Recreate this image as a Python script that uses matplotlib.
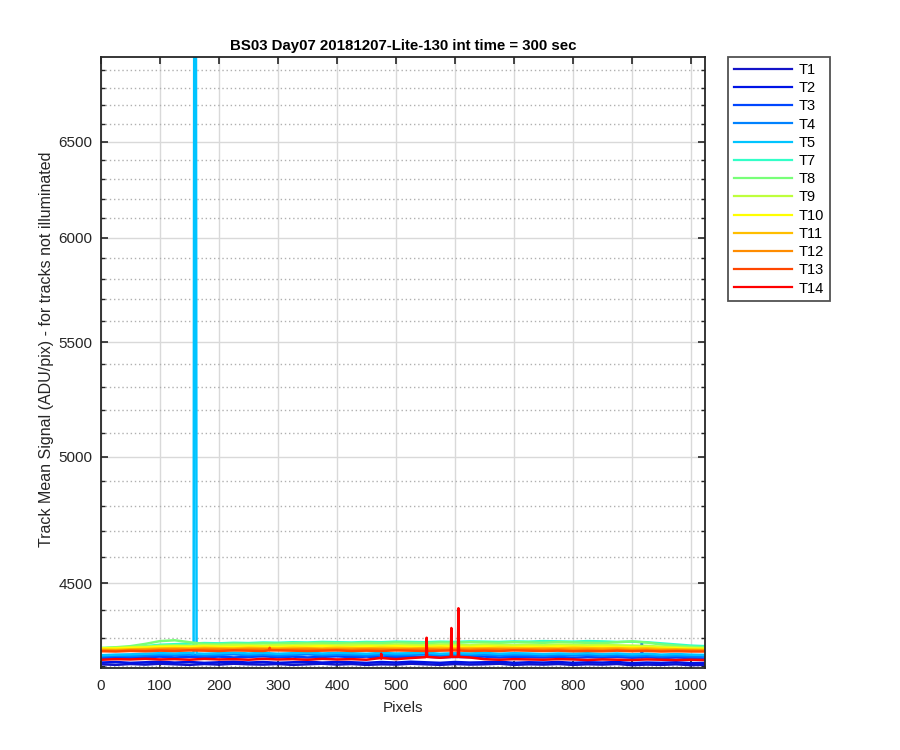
import matplotlib
matplotlib.use("Agg")
import matplotlib.pyplot as plt
from matplotlib.ticker import FixedLocator, NullFormatter, FixedFormatter

plt.rcParams['font.family'] = ['Liberation Sans', 'DejaVu Sans']

title = "BS03 Day07 20181207-Lite-130 int time = 300 sec"
xlabel = "Pixels"
ylabel = "Track Mean Signal (ADU/pix) - for tracks not illuminated"

track_names = ["T1", "T2", "T3", "T4", "T5", "T7", "T8", "T9", "T10", "T11", "T12", "T13", "T14"]
track_colors = ["#1414c8", "#0014e6", "#0046ff", "#0082ff", "#00c4ff", "#32ffc8", "#78ff78",
                "#beff3c", "#ffff00", "#ffbe00", "#ff8c00", "#ff4600", "#ff0000"]

x_grid = [1, 25, 50, 75, 100, 125, 150, 175, 200, 225, 250, 275, 300, 325, 350, 375, 400,
          425, 450, 475, 500, 525, 550, 575, 600, 625, 650, 675, 700, 725, 750, 775, 800,
          825, 850, 875, 900, 925, 950, 975, 1000, 1024]

T1 = [4206, 4204, 4207, 4205, 4208, 4206, 4204, 4207, 4205, 4208, 4206, 4205, 4207, 4204,
      4206, 4208, 4205, 4207, 4204, 4206, 4205, 4208, 4206, 4204, 4207, 4205, 4206, 4208,
      4204, 4206, 4205, 4207, 4204, 4206, 4205, 4207, 4203, 4205, 4204, 4206, 4203, 4204]
T2 = [4212, 4214, 4211, 4213, 4215, 4212, 4214, 4211, 4213, 4215, 4212, 4214, 4211, 4213,
      4215, 4212, 4214, 4213, 4211, 4214, 4212, 4215, 4213, 4211, 4214, 4212, 4213, 4215,
      4211, 4213, 4212, 4214, 4211, 4213, 4212, 4214, 4210, 4212, 4211, 4213, 4210, 4211]
T3 = [4228, 4230, 4229, 4231, 4233, 4230, 4232, 4231, 4233, 4230, 4232, 4234, 4231, 4233,
      4230, 4232, 4234, 4231, 4233, 4230, 4232, 4231, 4233, 4230, 4232, 4231, 4233, 4230,
      4232, 4231, 4230, 4232, 4229, 4231, 4230, 4232, 4229, 4231, 4228, 4230, 4228, 4227]
T4 = [4234, 4236, 4235, 4237, 4239, 4238, 4240, 4237, 4239, 4241, 4238, 4240, 4237, 4239,
      4241, 4238, 4240, 4239, 4237, 4240, 4238, 4239, 4241, 4237, 4239, 4238, 4240, 4237,
      4239, 4238, 4236, 4238, 4237, 4239, 4236, 4238, 4235, 4237, 4234, 4236, 4234, 4233]
T5 = [4238, 4240, 4241, 4243, 4245, 4244, 4246, 4243, 4245, 4247, 4244, 4246, 4243, 4245,
      4247, 4244, 4246, 4245, 4243, 4246, 4244, 4245, 4247, 4243, 4245, 4244, 4246, 4243,
      4245, 4244, 4242, 4244, 4243, 4245, 4242, 4244, 4241, 4243, 4240, 4242, 4240, 4239]
T7 = [4262, 4264, 4266, 4270, 4275, 4277, 4279, 4281, 4280, 4282, 4281, 4283, 4282, 4284,
      4283, 4285, 4284, 4283, 4285, 4284, 4286, 4285, 4284, 4286, 4285, 4287, 4286, 4285,
      4287, 4286, 4288, 4287, 4286, 4288, 4287, 4285, 4286, 4284, 4280, 4276, 4272, 4270]
T8 = [4264, 4266, 4270, 4278, 4288, 4291, 4284, 4278, 4277, 4279, 4278, 4280, 4279, 4281,
      4280, 4282, 4281, 4280, 4282, 4281, 4283, 4282, 4281, 4283, 4282, 4284, 4283, 4282,
      4284, 4283, 4282, 4284, 4283, 4282, 4281, 4284, 4287, 4283, 4276, 4272, 4268, 4266]
T9 = [4262, 4264, 4266, 4268, 4271, 4272, 4271, 4273, 4272, 4274, 4273, 4272, 4274, 4273,
      4275, 4274, 4273, 4275, 4274, 4273, 4275, 4274, 4273, 4275, 4274, 4273, 4275, 4274,
      4273, 4274, 4273, 4275, 4274, 4273, 4274, 4273, 4272, 4271, 4268, 4266, 4264, 4262]
T10 = [4262, 4262, 4264, 4265, 4267, 4268, 4267, 4269, 4268, 4267, 4269, 4268, 4267, 4269,
       4268, 4270, 4268, 4267, 4269, 4268, 4270, 4268, 4267, 4269, 4268, 4267, 4269, 4268,
       4267, 4268, 4267, 4269, 4268, 4267, 4268, 4267, 4266, 4265, 4264, 4263, 4261, 4260]
T11 = [4258, 4257, 4259, 4260, 4262, 4263, 4262, 4264, 4263, 4262, 4264, 4263, 4262, 4264,
       4263, 4262, 4264, 4263, 4262, 4264, 4263, 4262, 4263, 4264, 4262, 4263, 4262, 4264,
       4263, 4262, 4263, 4262, 4264, 4263, 4262, 4263, 4261, 4262, 4260, 4259, 4258, 4257]
T12 = [4255, 4254, 4256, 4257, 4258, 4259, 4258, 4260, 4259, 4258, 4260, 4259, 4258, 4259,
       4260, 4258, 4259, 4258, 4260, 4259, 4258, 4259, 4260, 4258, 4259, 4258, 4260, 4259,
       4258, 4259, 4258, 4259, 4257, 4258, 4257, 4258, 4256, 4257, 4255, 4256, 4255, 4254]
T13 = [4252, 4251, 4253, 4252, 4254, 4253, 4255, 4254, 4253, 4255, 4254, 4253, 4255, 4254,
       4253, 4254, 4255, 4253, 4254, 4253, 4255, 4254, 4253, 4254, 4255, 4253, 4254, 4253,
       4255, 4254, 4253, 4254, 4252, 4253, 4252, 4254, 4252, 4253, 4251, 4252, 4251, 4251]
T14 = [4222, 4224, 4223, 4225, 4223, 4224, 4222, 4225, 4223, 4224, 4222, 4225, 4223, 4224,
       4222, 4225, 4223, 4224, 4222, 4226, 4224, 4228, 4231, 4229, 4232, 4230, 4224, 4222,
       4224, 4223, 4222, 4224, 4223, 4221, 4223, 4222, 4221, 4223, 4222, 4221, 4222, 4221]

# isolated spikes (pixel, value)
T5_spike_x = [157, 158, 159, 160, 161, 162]
T5_spike_y = [4244, 6980, 6980, 6980, 6980, 4244]
T14_spike_x = [474, 475, 476, 551, 552, 553, 593, 594, 595, 605, 606, 607]
T14_spike_y = [4228, 4243, 4228, 4232, 4300, 4232, 4232, 4335, 4232, 4232, 4407, 4232]
T3_spike_x = [916, 917, 918]
T3_spike_y = [4230, 4280, 4230]
T13_spike_x = [285, 286, 287]
T13_spike_y = [4255, 4264, 4255]

tracks = [T1, T2, T3, T4, T5, T7, T8, T9, T10, T11, T12, T13, T14]
spikes = {"T5": (T5_spike_x, T5_spike_y), "T14": (T14_spike_x, T14_spike_y),
          "T3": (T3_spike_x, T3_spike_y), "T13": (T13_spike_x, T13_spike_y)}

y_min, y_max = 4193, 6976
y_major = [4500, 5000, 5500, 6000, 6500]
y_minor = [v for v in range(4200, 7000, 100) if v not in y_major]
x_ticks = [0, 100, 200, 300, 400, 500, 600, 700, 800, 900, 1000]

fig = plt.figure(figsize=(9, 7.5), dpi=100)
ax = fig.add_axes([101/900, 1 - 668/750, (705 - 101)/900, (668 - 57)/750])

for name, vals, col in zip(track_names, tracks, track_colors):
    xs = list(x_grid)
    ys = list(vals)
    if name in spikes:
        sx, sy = spikes[name]
        pts = sorted(list(zip(xs, ys)) + list(zip(sx, sy)))
        xs = [p[0] for p in pts]
        ys = [p[1] for p in pts]
    ax.plot(xs, ys, color=col, lw=1.8, label=name)

ax.set_yscale('log')
ax.set_xlim(0, 1024)
ax.set_ylim(y_min, y_max)
ax.yaxis.set_major_locator(FixedLocator(y_major))
ax.yaxis.set_major_formatter(FixedFormatter([str(v) for v in y_major]))
ax.yaxis.set_minor_locator(FixedLocator(y_minor))
ax.yaxis.set_minor_formatter(NullFormatter())
ax.set_xticks(x_ticks)
ax.set_xticklabels([str(v) for v in x_ticks])

ax.grid(True, which='major', color='#d9d9d9', lw=1.0, ls='-')
ax.grid(True, which='minor', axis='y', color='#b0b0b0', lw=1.0, ls=(0, (1, 2)))
ax.set_axisbelow(True)

ax.tick_params(which='both', direction='in', top=True, right=True, labelsize=11,
               color='#262626', labelcolor='#262626')
ax.tick_params(which='major', length=5, width=1.2)
ax.tick_params(axis='x', which='major', pad=8)
ax.tick_params(axis='y', which='major', pad=6)
ax.tick_params(which='minor', length=3, width=1.0)
for sp in ax.spines.values():
    sp.set_color('#262626')
    sp.set_linewidth(1.3)

ax.set_title(title, fontsize=10.8, fontweight='bold', color='black', pad=5)
ax.set_xlabel(xlabel, fontsize=11, color='#262626', labelpad=6)
ax.set_ylabel(ylabel, fontsize=11.5, color='#262626', labelpad=6)
ax.yaxis.set_label_coords(-0.077, 0.522)

leg = ax.legend(loc='upper left', bbox_to_anchor=(728/900, 1 - 57/750),
                bbox_transform=fig.transFigure, fontsize=10.5, frameon=True,
                fancybox=False, edgecolor='#262626', handlelength=4.0,
                handletextpad=0.45, labelspacing=0.29, borderpad=0.4, borderaxespad=0)
leg.get_frame().set_linewidth(1.3)
for line in leg.get_lines():
    line.set_linewidth(1.6)

fig.savefig("out.png", dpi=100, facecolor='white')
